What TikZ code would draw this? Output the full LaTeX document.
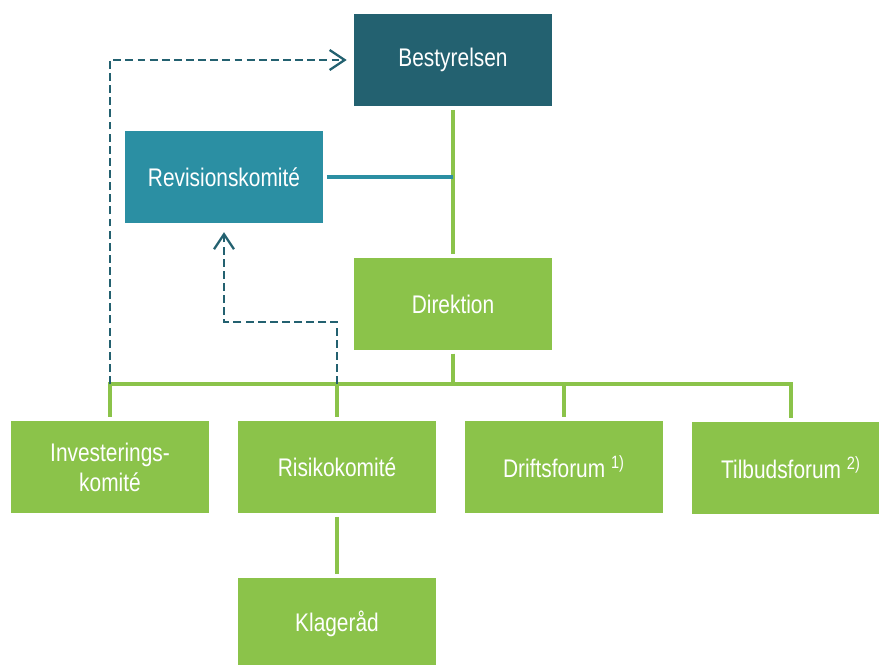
\documentclass[tikz,border=0pt]{standalone}
\usepackage{fontspec}
\setmainfont[FakeStretch=0.82]{Liberation Sans}
\usetikzlibrary{arrows.meta}
\definecolor{darkteal}{HTML}{236170}
\definecolor{lightteal}{HTML}{2B8FA3}
\definecolor{leafgreen}{HTML}{8BC34A}
\tikzset{
	unit/.style={fill=leafgreen, text=white, minimum width=3.96cm, minimum height=1.84cm, inner sep=0pt, align=center, font=\fontsize{14.5}{17}\selectfont},
	link/.style={leafgreen, line width=2.1pt},
	dashlink/.style={darkteal, line width=1.3pt, dash pattern=on 4.5pt off 2.4pt, -{Straight Barb[length=3mm,width=4mm,line width=1.3pt]}}
}
\begin{document}
\begin{tikzpicture}[x=0.02cm, y=-0.02cm]
\useasboundingbox (0,0) rectangle (879,664);

\node[unit, fill=darkteal] (bestyrelsen) at (453,60) {Bestyrelsen};
\node[unit, fill=lightteal] (revision) at (224,177) {Revisionskomité};
\node[unit] (direktion) at (453,304) {Direktion};
\node[unit] (invest) at (110,467) {Investerings-\\komité};
\node[unit] (risiko) at (337,467) {Risikokomité};
\node[unit] (drift) at (564,467) {Driftsforum \textsuperscript{1)}};
\node[unit] (tilbud) at (791,468) {Tilbudsforum \textsuperscript{2)}};
\node[unit] (klage) at (337,624) {Klageråd};
\coordinate (bus) at (453,384);

\draw[link, shorten <=2pt, shorten >=2pt] (bestyrelsen.south) -- (direktion.north);
\draw[lightteal, line width=2.1pt, shorten <=2pt] (revision.east) -- (revision.east -| bestyrelsen.south);
\foreach \n in {invest,risiko,drift,tilbud} {
	\draw[link, shorten <=2pt, shorten >=2pt] (direktion.south) -- (bus) -| (\n.north);
}
\draw[link, shorten <=2pt, shorten >=2pt] (risiko.south) -- (klage.north);

\draw[dashlink, shorten >=4pt] (invest.north |- bus) |- (bestyrelsen.west);
\draw[dashlink, shorten >=5pt] (risiko.north |- bus) -- ++(0,-62) -| (revision.south);

\end{tikzpicture}
\end{document}
